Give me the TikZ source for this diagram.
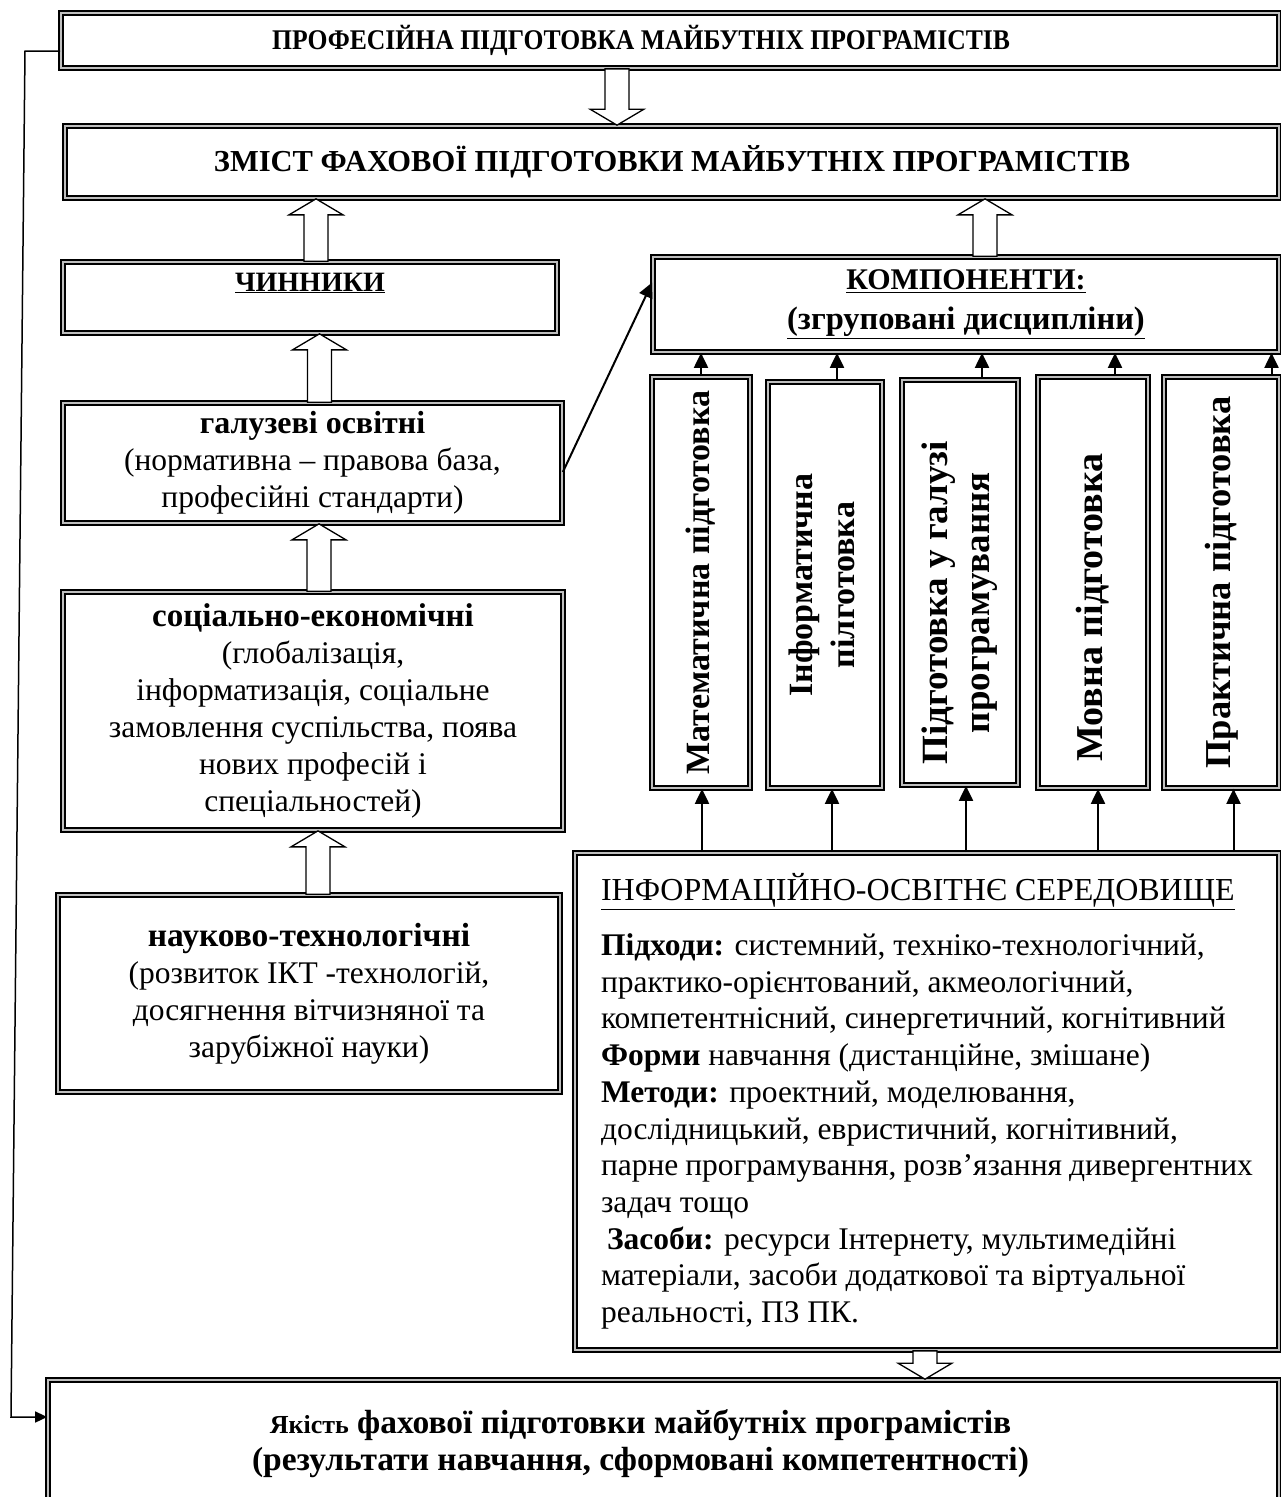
\documentclass[tikz,border=0pt]{standalone}
\usepackage{fontspec}
\setmainfont{Liberation Serif}
\usetikzlibrary{arrows.meta,shadows,calc}

% hollow block arrow from #1 (tail) to #2 (tip)
\newcommand{\hollowarrow}[2]{%
  \draw[hollow] let \p1=(#1), \p2=(#2), \p3=($(#2)!16pt!(#1)$) in
    (\x1-12pt,\y1) -- (\x1-12pt,\y3) -- (\x1-27pt,\y3) -- (\x1,\y2)
    -- (\x1+27pt,\y3) -- (\x1+12pt,\y3) -- (\x1+12pt,\y1) -- cycle;}

\begin{document}
\begin{tikzpicture}[x=1pt,y=-1pt]
	\tikzset{box/.style={draw, line width=1.7pt, double=gray!50, double distance=2.4pt, fill=white, inner sep=4pt, align=flush center,
			drop shadow={shadow xshift=3pt, shadow yshift=-3pt, fill=gray!60, opacity=1}},
		body/.style={font=\fontsize{31.5}{37}\selectfont},
		vtext/.style={font=\fontsize{34}{42}\selectfont\bfseries},
		conn/.style={line width=2pt, -{Triangle[length=15pt,width=14pt]}},
		hollow/.style={draw, line width=1.3pt, fill=white}}

	\useasboundingbox (0,0) rectangle (1281,1497);

	\node[box, minimum width=1218pt, minimum height=55pt, font=\fontsize{28.5}{32}\selectfont\bfseries] (prof) at (670,40.5) {\scalebox{0.9}[1]{ПРОФЕСІЙНА ПІДГОТОВКА МАЙБУТНІХ ПРОГРАМІСТІВ}\hspace*{58pt}};
	\node[box, minimum width=1214pt, minimum height=72pt, font=\fontsize{30.5}{36}\selectfont\bfseries] (zmist) at (672,162) {ЗМІСТ ФАХОВОЇ ПІДГОТОВКИ МАЙБУТНІХ ПРОГРАМІСТІВ};

	% chynnyky
	\node[box, minimum width=494pt, minimum height=71pt, text depth=31pt, font=\fontsize{28}{34}\selectfont\bfseries] (chyn) at (310,297.5) {\underline{ЧИННИКИ}};
	\node[box, body, minimum width=499pt, minimum height=120pt] (galuz) at (312.5,463) {{\fontsize{32}{37}\selectfont\bfseries галузеві освітні}\\(нормативна – правова база,\\професійні стандарти)};
	\node[box, body, minimum width=500pt, minimum height=238pt] (social) at (313,711) {{\fontsize{33}{37}\selectfont\bfseries соціально-економічні}\\(глобалізація,\\інформатизація, соціальне\\замовлення суспільства, поява\\нових професій і\\спеціальностей)};
	\node[box, body, minimum width=502pt, minimum height=197pt] (nauk) at (309,993.5) {{\fontsize{33.5}{37}\selectfont\bfseries науково-технологічні}\\(розвиток ІКТ -технологій,\\досягнення вітчизняної та\\зарубіжної науки)};

	% komponenty
	\node[box, minimum width=626pt, minimum height=95pt, font=\fontsize{30}{40}\selectfont\bfseries] (komp) at (966,304.5) {\underline{КОМПОНЕНТИ:}\\{\fontsize{32.5}{40}\selectfont\underline{(згруповані дисципліни)}}};
	\node[box, vtext, minimum width=98pt, minimum height=411pt] (v1) at (701,582.5) {\rotatebox{90}{Математична підготовка}};
	\node[box, vtext, minimum width=114pt, minimum height=406pt] (v2) at (825,585) {\rotatebox{90}{\begin{tabular}{@{}c@{}}Інформатична\\пілготовка\end{tabular}}};
	\node[box, vtext, minimum width=116pt, minimum height=405pt, font=\fontsize{37}{42}\selectfont\bfseries] (v3) at (960,582.5) {\rotatebox{90}{\begin{tabular}{@{}c@{}}Підготовка у галузі\\програмування\end{tabular}\hspace*{40pt}}};
	\node[box, vtext, minimum width=110pt, minimum height=411pt, font=\fontsize{38}{42}\selectfont\bfseries] (v4) at (1093,582.5) {\rotatebox{90}{Мовна підготовка\hspace*{50pt}}};
	\node[box, vtext, minimum width=115pt, minimum height=411pt, font=\fontsize{36.5}{42}\selectfont\bfseries] (v5) at (1221.5,582.5) {\rotatebox{90}{Практична підготовка}};

	\node[box, minimum height=497pt, text width=652pt, inner xsep=26pt, align=flush left, font=\fontsize{31.5}{36.7}\selectfont] (info) at (927,1101.5) {{\fontsize{32}{36.7}\selectfont\underline{ІНФОРМАЦІЙНО-ОСВІТНЄ СЕРЕДОВИЩЕ}}\\[18pt]
		\textbf{Підходи:} системний, техніко-технологічний,\\
		практико-орієнтований, акмеологічний,\\
		компетентнісний, синергетичний, когнітивний\\
		\textbf{Форми} навчання (дистанційне, змішане)\\
		\textbf{Методи:} проектний, моделювання,\\
		дослідницький, евристичний, когнітивний,\\
		парне програмування, розв’язання дивергентних\\
		задач тощо\\
		\hspace*{6pt}\textbf{Засоби:} ресурси Інтернету, мультимедійні\\
		матеріали, засоби додаткової та віртуальної\\
		реальності, ПЗ ПК.};

	\node[box, minimum width=1231pt, minimum height=128pt, font=\fontsize{33.5}{37}\selectfont\bfseries] (quality) at (663.5,1444) {{\fontsize{26}{37}\selectfont Якість} фахової підготовки майбутніх програмістів\hspace*{46pt}\\(результати навчання, сформовані компетентності)\hspace*{46pt}};

	% block arrows
	\coordinate (a1s) at ([xshift=-53pt]prof.south);
	\coordinate (a1e) at (a1s |- zmist.north);
	\hollowarrow{a1s}{a1e}
	\coordinate (a2s) at ([xshift=6pt]chyn.north);
	\coordinate (a2e) at (a2s |- zmist.south);
	\hollowarrow{a2s}{a2e}
	\coordinate (a3s) at ([xshift=19pt]komp.north);
	\coordinate (a3e) at (a3s |- zmist.south);
	\hollowarrow{a3s}{a3e}
	\coordinate (a4s) at ([xshift=7pt]galuz.north);
	\coordinate (a4e) at (a4s |- chyn.south);
	\hollowarrow{a4s}{a4e}
	\coordinate (a5s) at ([xshift=6pt]social.north);
	\coordinate (a5e) at (a5s |- galuz.south);
	\hollowarrow{a5s}{a5e}
	\coordinate (a6s) at ([xshift=9pt]nauk.north);
	\coordinate (a6e) at (a6s |- social.south);
	\hollowarrow{a6s}{a6e}
	\coordinate (a7s) at ([xshift=-2pt]info.south);
	\coordinate (a7e) at (a7s |- quality.north);
	\hollowarrow{a7s}{a7e}

	% arrows to the components
	\foreach \b/\s in {v1/0, v2/12, v3/22, v4/22, v5/50}
		\draw[conn] ([xshift=\s pt]\b.north) -- ([xshift=\s pt]\b.north |- komp.south);
	\foreach \b/\s in {v1/1, v2/7, v3/6, v4/5, v5/12}
		\draw[conn] ([xshift=\s pt]\b.south |- info.north) -- ([xshift=\s pt]\b.south);
	\draw[conn] ([yshift=-9pt]galuz.east) -- ([yshift=22pt]komp.west);

	% feedback line
	\coordinate (fbtop) at (25,51);
	\coordinate (fbbot) at (11,1417);
	\draw[line width=1.5pt, -{Triangle[length=12pt,width=11pt]}] ([yshift=-10.5pt]prof.west) -- (fbtop) -- (fbbot) -- (fbbot -| quality.west);
\end{tikzpicture}
\end{document}
